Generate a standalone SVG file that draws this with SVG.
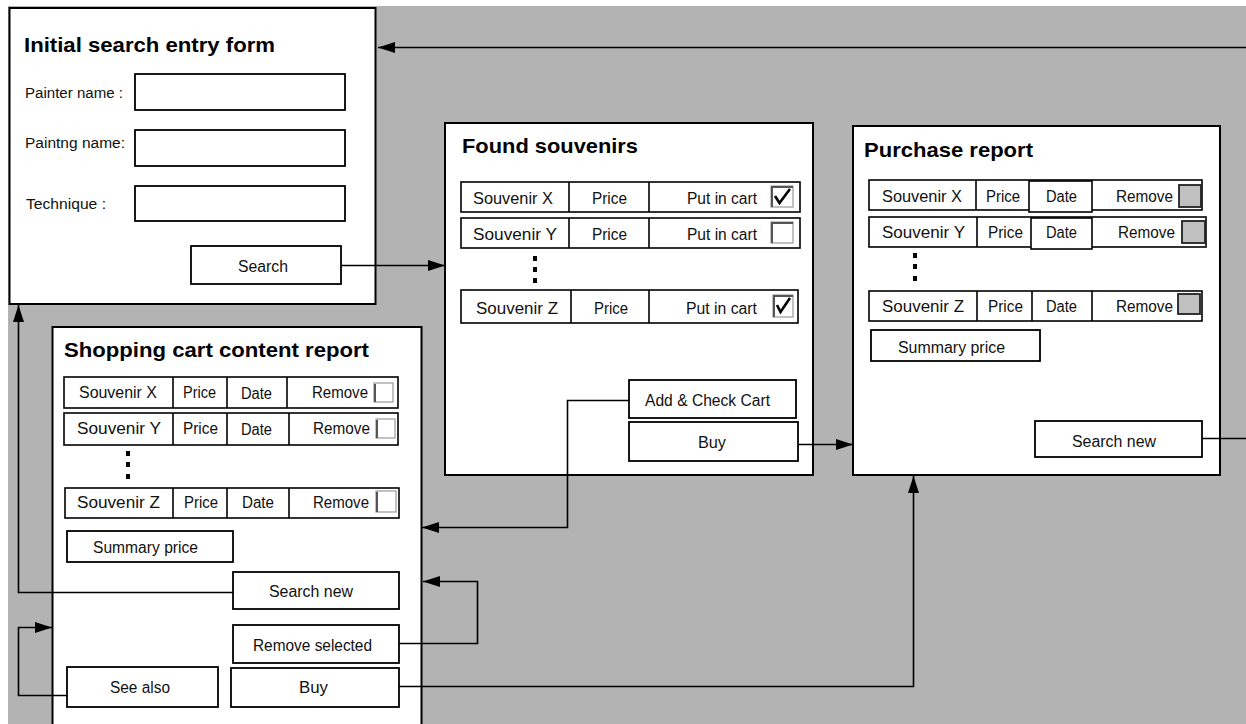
<svg xmlns="http://www.w3.org/2000/svg" width="1246" height="724" viewBox="0 0 1246 724">
  <style>
    .frame { fill: #ffffff; stroke: #000000; stroke-width: 2; }
    .cell { fill: #ffffff; stroke: #000000; stroke-width: 1.6; }
    .div { stroke: #000000; stroke-width: 1.6; }
    .btn { fill: #ffffff; stroke: #000000; stroke-width: 1.8; }
    .title { font-family: "Liberation Sans", Arial, sans-serif; font-weight: bold; font-size: 21px; fill: #000; }
    .t { font-family: "Liberation Sans", Arial, sans-serif; font-size: 16px; fill: #111; }
    .lbl { font-family: "Liberation Sans", Arial, sans-serif; font-size: 14px; fill: #111; }
    .cbw { fill: #ffffff; stroke: #9a9a9a; stroke-width: 1.2; }
    .cbg { fill: #c0c0c0; stroke: #222222; stroke-width: 1.8; }
    .bevel { fill: none; stroke: #555555; stroke-width: 2; }
    .tick { fill: none; stroke: #000000; stroke-width: 2.6; }
    .dot { fill: #000000; }
    .wire { fill: none; stroke: #000000; stroke-width: 1.6; }
  </style>
  <defs>
    <marker id="arrow" markerUnits="userSpaceOnUse" markerWidth="18" markerHeight="12" refX="17" refY="6" orient="auto">
      <path d="M0,0.5 L17,6 L0,11.5 z" fill="#000000"/>
    </marker>
  </defs>

  <!-- canvas -->
  <rect x="0" y="0" width="1246" height="724" fill="#ffffff"/>
  <rect x="8" y="6" width="1238" height="718" fill="#b3b3b3"/>

  <!-- Initial search entry form -->
  <g id="search-form">
    <rect class="frame" x="9.5" y="8" width="366" height="296"/>
    <text class="title" x="24" y="52" textLength="251" lengthAdjust="spacingAndGlyphs">Initial search entry form</text>
    <text class="lbl" x="25" y="98" textLength="98" lengthAdjust="spacingAndGlyphs">Painter name :</text>
    <rect class="btn" x="135" y="74" width="210" height="36"/>
    <text class="lbl" x="25" y="148" textLength="100" lengthAdjust="spacingAndGlyphs">Paintng name:</text>
    <rect class="btn" x="135" y="130" width="210" height="36"/>
    <text class="lbl" x="26" y="209" textLength="80" lengthAdjust="spacingAndGlyphs">Technique :</text>
    <rect class="btn" x="135" y="186" width="210" height="35"/>
    <rect class="btn" x="191" y="246" width="150" height="38"/>
    <text class="t" x="238" y="272" textLength="50" lengthAdjust="spacingAndGlyphs">Search</text>
  </g>

  <!-- Found souvenirs -->
  <g id="found-souvenirs">
    <rect class="frame" x="445" y="123" width="368" height="352"/>
    <text class="title" x="462" y="153" textLength="176" lengthAdjust="spacingAndGlyphs">Found souvenirs</text>

    <rect class="cell" x="461" y="182" width="339" height="30"/>
    <line class="div" x1="569" y1="182" x2="569" y2="212"/>
    <line class="div" x1="649" y1="182" x2="649" y2="212"/>
    <text class="t" x="473" y="204" textLength="80" lengthAdjust="spacingAndGlyphs">Souvenir X</text>
    <text class="t" x="592" y="204" textLength="35" lengthAdjust="spacingAndGlyphs">Price</text>
    <text class="t" x="687" y="204" textLength="70" lengthAdjust="spacingAndGlyphs">Put in cart</text>
    <rect class="cbw" x="771" y="186" width="22" height="21"/>
    <path class="bevel" d="M772,207 V187 H793"/>
    <path class="tick" d="M775,196 L779.5,203 L790,189"/>

    <rect class="cell" x="461" y="218" width="339" height="30"/>
    <line class="div" x1="569" y1="218" x2="569" y2="248"/>
    <line class="div" x1="649" y1="218" x2="649" y2="248"/>
    <text class="t" x="473" y="240" textLength="84" lengthAdjust="spacingAndGlyphs">Souvenir  Y</text>
    <text class="t" x="592" y="240" textLength="35" lengthAdjust="spacingAndGlyphs">Price</text>
    <text class="t" x="687" y="240" textLength="70" lengthAdjust="spacingAndGlyphs">Put in cart</text>
    <rect class="cbw" x="771" y="222" width="22" height="21"/>
    <path class="bevel" d="M772,243 V223 H793"/>

    <rect class="dot" x="533" y="256" width="4" height="5"/>
    <rect class="dot" x="533" y="267" width="4" height="5"/>
    <rect class="dot" x="533" y="278" width="4" height="5"/>

    <rect class="cell" x="461" y="290" width="337" height="33"/>
    <line class="div" x1="571" y1="290" x2="571" y2="323"/>
    <line class="div" x1="649" y1="290" x2="649" y2="323"/>
    <text class="t" x="476" y="314" textLength="82" lengthAdjust="spacingAndGlyphs">Souvenir  Z</text>
    <text class="t" x="594" y="314" textLength="34" lengthAdjust="spacingAndGlyphs">Price</text>
    <text class="t" x="686" y="314" textLength="71" lengthAdjust="spacingAndGlyphs">Put in cart</text>
    <rect class="cbw" x="773" y="295" width="20" height="22"/>
    <path class="bevel" d="M774,317 V296 H793"/>
    <path class="tick" d="M777,305 L780.5,312 L790,298"/>

    <rect class="btn" x="629" y="380" width="167" height="38"/>
    <text class="t" x="645" y="406" textLength="125" lengthAdjust="spacingAndGlyphs">Add &amp; Check Cart</text>
    <rect class="btn" x="629" y="422" width="169" height="39"/>
    <text class="t" x="698" y="448" textLength="28" lengthAdjust="spacingAndGlyphs">Buy</text>
  </g>

  <!-- Purchase report -->
  <g id="purchase-report">
    <rect class="frame" x="853" y="126" width="367" height="349"/>
    <text class="title" x="864" y="157" textLength="169" lengthAdjust="spacingAndGlyphs">Purchase report</text>

    <rect class="cell" x="869" y="180" width="333" height="30"/>
    <line class="div" x1="976" y1="180" x2="976" y2="210"/>
    <rect class="cell" x="1029" y="181" width="63" height="31"/>
    <text class="t" x="882" y="202" textLength="80" lengthAdjust="spacingAndGlyphs">Souvenir X</text>
    <text class="t" x="986" y="202" textLength="34" lengthAdjust="spacingAndGlyphs">Price</text>
    <text class="t" x="1046" y="202" textLength="31" lengthAdjust="spacingAndGlyphs">Date</text>
    <text class="t" x="1116" y="202" textLength="57" lengthAdjust="spacingAndGlyphs">Remove</text>
    <rect class="cbg" x="1179" y="185" width="22" height="22"/>

    <rect class="cell" x="869" y="217" width="337" height="30"/>
    <line class="div" x1="977" y1="217" x2="977" y2="247"/>
    <rect class="cell" x="1031" y="218" width="61" height="31"/>
    <text class="t" x="882" y="238" textLength="83" lengthAdjust="spacingAndGlyphs">Souvenir  Y</text>
    <text class="t" x="988" y="238" textLength="35" lengthAdjust="spacingAndGlyphs">Price</text>
    <text class="t" x="1046" y="238" textLength="31" lengthAdjust="spacingAndGlyphs">Date</text>
    <text class="t" x="1118" y="238" textLength="57" lengthAdjust="spacingAndGlyphs">Remove</text>
    <rect class="cbg" x="1182" y="221" width="23" height="22"/>

    <rect class="dot" x="913" y="253" width="4" height="5"/>
    <rect class="dot" x="913" y="264" width="4" height="5"/>
    <rect class="dot" x="913" y="276" width="4" height="5"/>

    <rect class="cell" x="869" y="291" width="333" height="30"/>
    <line class="div" x1="977" y1="291" x2="977" y2="321"/>
    <line class="div" x1="1032" y1="291" x2="1032" y2="321"/>
    <line class="div" x1="1092" y1="291" x2="1092" y2="321"/>
    <text class="t" x="882" y="312" textLength="82" lengthAdjust="spacingAndGlyphs">Souvenir  Z</text>
    <text class="t" x="988" y="312" textLength="35" lengthAdjust="spacingAndGlyphs">Price</text>
    <text class="t" x="1046" y="312" textLength="31" lengthAdjust="spacingAndGlyphs">Date</text>
    <text class="t" x="1116" y="312" textLength="57" lengthAdjust="spacingAndGlyphs">Remove</text>
    <rect class="cbg" x="1178" y="294" width="22" height="20"/>

    <rect class="btn" x="871" y="330" width="169" height="31"/>
    <text class="t" x="898" y="353" textLength="107" lengthAdjust="spacingAndGlyphs">Summary price</text>
    <rect class="btn" x="1035" y="421" width="167" height="36"/>
    <text class="t" x="1072" y="447" textLength="84" lengthAdjust="spacingAndGlyphs">Search new</text>
  </g>

  <!-- Shopping cart content report -->
  <g id="shopping-cart">
    <rect class="frame" x="52.5" y="327" width="369" height="420"/>
    <text class="title" x="64" y="357" textLength="305" lengthAdjust="spacingAndGlyphs">Shopping cart content report</text>

    <rect class="cell" x="64" y="377" width="334" height="31"/>
    <line class="div" x1="173" y1="377" x2="173" y2="408"/>
    <line class="div" x1="227" y1="377" x2="227" y2="408"/>
    <line class="div" x1="287" y1="377" x2="287" y2="408"/>
    <text class="t" x="79" y="398" textLength="78" lengthAdjust="spacingAndGlyphs">Souvenir X</text>
    <text class="t" x="183" y="398" textLength="33" lengthAdjust="spacingAndGlyphs">Price</text>
    <text class="t" x="241" y="399" textLength="31" lengthAdjust="spacingAndGlyphs">Date</text>
    <text class="t" x="312" y="398" textLength="56" lengthAdjust="spacingAndGlyphs">Remove</text>
    <rect class="cbw" x="374" y="383" width="19" height="19"/>
    <path class="bevel" d="M375,402 V384" stroke-width="1.5"/>

    <rect class="cell" x="64" y="413" width="334" height="32"/>
    <line class="div" x1="173" y1="413" x2="173" y2="445"/>
    <line class="div" x1="227" y1="413" x2="227" y2="445"/>
    <line class="div" x1="289" y1="413" x2="289" y2="445"/>
    <text class="t" x="77" y="434" textLength="84" lengthAdjust="spacingAndGlyphs">Souvenir  Y</text>
    <text class="t" x="183" y="434" textLength="35" lengthAdjust="spacingAndGlyphs">Price</text>
    <text class="t" x="241" y="435" textLength="31" lengthAdjust="spacingAndGlyphs">Date</text>
    <text class="t" x="313" y="434" textLength="57" lengthAdjust="spacingAndGlyphs">Remove</text>
    <rect class="cbw" x="376" y="419" width="19" height="19"/>
    <path class="bevel" d="M377,438 V420" stroke-width="1.5"/>

    <rect class="dot" x="126" y="451" width="4" height="5"/>
    <rect class="dot" x="126" y="462" width="4" height="5"/>
    <rect class="dot" x="126" y="474" width="4" height="5"/>

    <rect class="cell" x="65" y="488" width="334" height="30"/>
    <line class="div" x1="173" y1="488" x2="173" y2="518"/>
    <line class="div" x1="227" y1="488" x2="227" y2="518"/>
    <line class="div" x1="289" y1="488" x2="289" y2="518"/>
    <text class="t" x="77" y="508" textLength="83" lengthAdjust="spacingAndGlyphs">Souvenir  Z</text>
    <text class="t" x="184" y="508" textLength="34" lengthAdjust="spacingAndGlyphs">Price</text>
    <text class="t" x="242" y="508" textLength="32" lengthAdjust="spacingAndGlyphs">Date</text>
    <text class="t" x="313" y="508" textLength="56" lengthAdjust="spacingAndGlyphs">Remove</text>
    <rect class="cbw" x="376" y="491" width="20" height="21"/>
    <path class="bevel" d="M377,512 V492" stroke-width="1.5"/>

    <rect class="btn" x="67" y="531" width="166" height="31"/>
    <text class="t" x="93" y="553" textLength="105" lengthAdjust="spacingAndGlyphs">Summary price</text>
    <rect class="btn" x="233" y="572" width="166" height="37"/>
    <text class="t" x="269" y="597" textLength="84" lengthAdjust="spacingAndGlyphs">Search new</text>
    <rect class="btn" x="233" y="625" width="166" height="38"/>
    <text class="t" x="253" y="651" textLength="119" lengthAdjust="spacingAndGlyphs">Remove selected</text>
    <rect class="btn" x="67" y="667" width="151" height="40"/>
    <text class="t" x="110" y="693" textLength="60" lengthAdjust="spacingAndGlyphs">See also</text>
    <rect class="btn" x="231" y="668" width="168" height="39"/>
    <text class="t" x="299" y="693" textLength="29" lengthAdjust="spacingAndGlyphs">Buy</text>
  </g>

  <!-- connectors (drawn over the frames they cross) -->
  <g id="connectors">
    <path class="wire" d="M1246,47.5 H378" marker-end="url(#arrow)"/>
    <path class="wire" d="M341,265.5 H445" marker-end="url(#arrow)"/>
    <path class="wire" d="M629,400.5 H567.5 V527.5 H422" marker-end="url(#arrow)"/>
    <path class="wire" d="M798,444.5 H853" marker-end="url(#arrow)"/>
    <path class="wire" d="M1202,438.5 H1246"/>
    <path class="wire" d="M399,686.5 H913.5 V476" marker-end="url(#arrow)"/>
    <path class="wire" d="M399,643.5 H477.5 V581.5 H423" marker-end="url(#arrow)"/>
    <path class="wire" d="M233,592.5 H18.5 V305" marker-end="url(#arrow)"/>
    <path class="wire" d="M67,695.5 H18.5 V627.5 H52" marker-end="url(#arrow)"/>
  </g>
</svg>
